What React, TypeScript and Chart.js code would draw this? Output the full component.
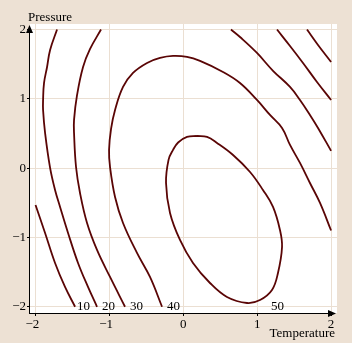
import React, { useEffect, useRef } from "react";
import { Chart, registerables } from "chart.js";

Chart.register(...registerables);

// ---------- data (data coordinates: Temperature, Pressure) ----------
const tickValues = [-2, -1, 0, 1, 2];

const contour10LeftX = [-2.0, -1.871, -1.736, -1.601, -1.465];
const contour10LeftY = [-0.531, -0.935, -1.368, -1.714, -2.0];

const contour20LeftX = [-1.709, -1.803, -1.844, -1.885, -1.898, -1.898, -1.871, -1.803, -1.736, -1.668, -1.56, -1.425, -1.29, -1.168];
const contour20LeftY = [2.0, 1.705, 1.46, 1.229, 0.984, 0.84, 0.508, 0.003, -0.315, -0.56, -0.935, -1.368, -1.714, -2.0];

const contour30LeftX = [-1.114, -1.262, -1.357, -1.438, -1.479, -1.479, -1.452, -1.398, -1.303, -1.168, -0.992, -0.789];
const contour30LeftY = [2.0, 1.72, 1.46, 1.056, 0.696, 0.508, 0.017, -0.358, -0.791, -1.18, -1.57, -2.0];

const contour40X = [-0.288, -0.451, -0.627, -0.816, -0.924, -0.992, -1.005, -0.978, -0.924, -0.816, -0.681, -0.491, -0.315, -0.139, 0.05, 0.226, 0.537, 0.767, 0.997, 1.173, 1.336, 1.444, 1.579, 1.714, 1.85, 2.0];
const contour40Y = [-2.0, -1.57, -1.223, -0.791, -0.416, 0.017, 0.263, 0.566, 0.84, 1.172, 1.374, 1.518, 1.59, 1.619, 1.605, 1.547, 1.388, 1.229, 0.984, 0.768, 0.58, 0.335, 0.075, -0.214, -0.502, -0.9];

const contour50X = [0.185, 0.05, -0.07, -0.139, -0.2, -0.234, -0.18, -0.045, 0.131, 0.361, 0.591, 0.862, 1.038, 1.2, 1.281, 1.336, 1.308, 1.214, 1.078, 0.903, 0.673, 0.456, 0.321, 0.185];
const contour50Y = [0.465, 0.45, 0.37, 0.263, 0.12, -0.214, -0.646, -1.036, -1.368, -1.657, -1.859, -1.946, -1.903, -1.758, -1.512, -1.137, -0.892, -0.56, -0.315, -0.055, 0.19, 0.364, 0.45, 0.465];

const contour30RightX = [0.645, 0.767, 0.997, 1.214, 1.444, 1.579, 1.714, 1.823, 2.0];
const contour30RightY = [2.0, 1.892, 1.662, 1.405, 1.172, 0.984, 0.768, 0.58, 0.25];

const contour20RightX = [1.268, 1.444, 1.62, 1.809, 2.0];
const contour20RightY = [2.0, 1.763, 1.518, 1.244, 0.984];

const contour10RightX = [1.674, 1.823, 2.0];
const contour10RightY = [2.0, 1.778, 1.532];

const contourLabels = ["10", "20", "30", "40", "50"];
const contourLabelX = [-1.438, -1.1, -0.721, -0.221, 1.187];
const contourLabelY = [-2, -2, -2, -2, -2];

const xTitle = "Temperature";
const yTitle = "Pressure";

// ---------- styles ----------
const BG = "#EDE1D4";
const GRID = "#EBDFD2";
const LINE = "#5A0505";
const FONT = "'Liberation Serif', 'Times New Roman', serif";

const toPoints = (xs: number[], ys: number[]) => xs.map((x, i) => ({ x, y: ys[i] }));

const fmt = (v: number, pad: boolean) =>
  v < 0 ? "\u2212" + Math.abs(v) + (pad ? "\u2007" : "") : String(v);

export default function App() {
  const ref = useRef<HTMLCanvasElement>(null);

  useEffect(() => {
    document.body.style.margin = "0";
    const canvas = ref.current!;

    const bgPlugin = {
      id: "bgPlugin",
      beforeDraw(chart: any) {
        const { ctx, width, height, chartArea } = chart;
        ctx.save();
        ctx.fillStyle = BG;
        ctx.fillRect(0, 0, width, height);
        ctx.fillStyle = "#ffffff";
        ctx.fillRect(chartArea.left, chartArea.top, chartArea.right - chartArea.left, chartArea.bottom - chartArea.top);
        ctx.restore();
      },
    };

    const overlayPlugin = {
      id: "overlayPlugin",
      afterDraw(chart: any) {
        const { ctx, chartArea } = chart;
        const xs = chart.scales.x;
        const ys = chart.scales.y;
        ctx.save();
        // contour labels
        ctx.fillStyle = "#000";
        ctx.font = `13px ${FONT}`;
        ctx.textAlign = "left";
        ctx.textBaseline = "middle";
        contourLabels.forEach((t, i) => {
          ctx.fillText(t, xs.getPixelForValue(contourLabelX[i]), ys.getPixelForValue(contourLabelY[i]));
        });
        // axes lines
        const ax = chartArea.left - 0.5;
        const ay = chartArea.bottom + 0.5;
        ctx.strokeStyle = "#000";
        ctx.lineWidth = 1;
        ctx.beginPath();
        ctx.moveTo(ax, ay);
        ctx.lineTo(ax, chartArea.top + 2);
        ctx.moveTo(ax - 0.5, ay);
        ctx.lineTo(chartArea.right - 2, ay);
        ctx.stroke();
        // arrow heads
        ctx.fillStyle = "#000";
        ctx.beginPath();
        ctx.moveTo(ax, chartArea.top + 1);
        ctx.lineTo(ax - 3.5, chartArea.top + 9);
        ctx.lineTo(ax + 3.5, chartArea.top + 9);
        ctx.closePath();
        ctx.fill();
        ctx.beginPath();
        ctx.moveTo(chartArea.right - 1, ay);
        ctx.lineTo(chartArea.right - 9, ay - 3.5);
        ctx.lineTo(chartArea.right - 9, ay + 3.5);
        ctx.closePath();
        ctx.fill();
        // axis titles
        ctx.textBaseline = "alphabetic";
        ctx.textAlign = "left";
        ctx.fillText(yTitle, chartArea.left - 2, chartArea.top - 3);
        ctx.textAlign = "right";
        ctx.fillText(xTitle, chartArea.right - 2, chartArea.bottom + 24);
        ctx.restore();
      },
    };

    const ds = (xs: number[], ys: number[]) => ({
      data: toPoints(xs, ys),
      showLine: true,
      borderColor: LINE,
      backgroundColor: LINE,
      borderWidth: 1.8,
      pointRadius: 0,
      tension: 0.4,
      fill: false,
    });

    const chart = new Chart(canvas, {
      type: "scatter",
      data: {
        datasets: [
          ds(contour10LeftX, contour10LeftY),
          ds(contour20LeftX, contour20LeftY),
          ds(contour30LeftX, contour30LeftY),
          ds(contour40X, contour40Y),
          ds(contour50X, contour50Y),
          ds(contour30RightX, contour30RightY),
          ds(contour20RightX, contour20RightY),
          ds(contour10RightX, contour10RightY),
        ],
      },
      options: {
        animation: false,
        responsive: false,
        devicePixelRatio: 1,
        layout: { padding: { top: 24, right: 15, left: 0, bottom: 0 } },
        plugins: { legend: { display: false }, tooltip: { enabled: false } },
        scales: {
          x: {
            type: "linear",
            min: -2.075,
            max: 2.08,
            afterBuildTicks: (s: any) => {
              s.ticks = tickValues.map((v) => ({ value: v }));
            },
            afterFit: (s: any) => {
              s.height = 30;
            },
            grid: { color: GRID, lineWidth: 1, tickColor: "#000", tickLength: 3, drawTicks: true },
            border: { display: false },
            ticks: {
              font: { family: FONT, size: 13 },
              color: "#000",
              padding: 1,
              maxRotation: 0,
              autoSkip: false,
              callback: (v: any) => fmt(Number(v), true),
            },
          },
          y: {
            type: "linear",
            min: -2.09,
            max: 2.08,
            afterBuildTicks: (s: any) => {
              s.ticks = tickValues.map((v) => ({ value: v }));
            },
            afterFit: (s: any) => {
              s.width = 30;
            },
            grid: { color: GRID, lineWidth: 1, tickColor: "#000", tickLength: 3, drawTicks: true },
            border: { display: false },
            ticks: {
              font: { family: FONT, size: 13 },
              color: "#000",
              padding: 1,
              autoSkip: false,
              callback: (v: any) => fmt(Number(v), false),
            },
          },
        },
      },
      plugins: [bgPlugin, overlayPlugin],
    } as any);

    return () => chart.destroy();
  }, []);

  return (
    <canvas
      ref={ref}
      width={352}
      height={343}
      style={{ display: "block", width: "352px", height: "343px" }}
    />
  );
}
